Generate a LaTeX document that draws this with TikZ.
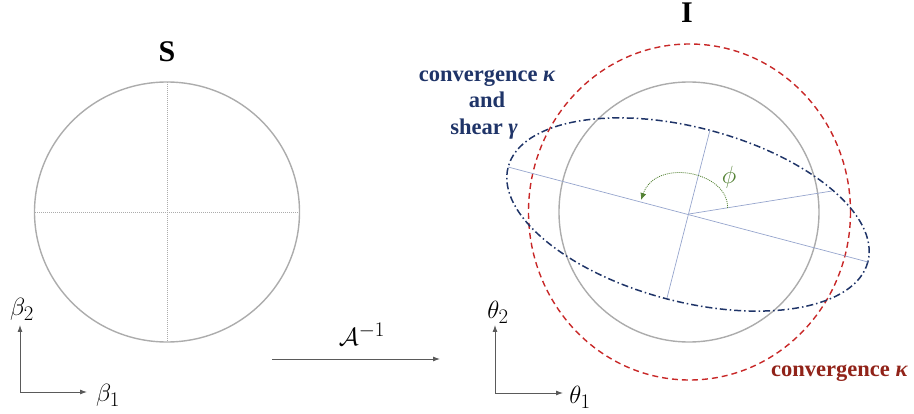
\documentclass[tikz,border=0pt]{standalone}
\usepackage[no-math]{fontspec}
\setmainfont{Liberation Serif}
\usetikzlibrary{arrows.meta}
\definecolor{circgray}{RGB}{172,172,172}
\definecolor{navy}{RGB}{31,52,104}
\definecolor{axisblue}{RGB}{150,165,205}
\definecolor{dashred}{RGB}{200,40,40}
\definecolor{textred}{RGB}{145,35,25}
\definecolor{phigreen}{RGB}{84,130,53}
\definecolor{axgray}{RGB}{90,90,90}
\tikzset{
  bigtitle/.style={font=\fontsize{30}{34}\selectfont\bfseries, inner sep=0pt, anchor=base},
  bluetxt/.style={font=\fontsize{22.5}{27}\selectfont\bfseries, text=navy, inner sep=0pt, anchor=base},
  redtxt/.style={font=\fontsize{22.5}{27}\selectfont\bfseries, text=textred, inner sep=0pt, anchor=base west},
  mathlbl/.style={font=\fontsize{24.88}{28}\selectfont, inner sep=0pt},
  grid line/.style={circgray, line width=0.5pt, dash pattern=on 1pt off 1pt},
  axisline/.style={axgray, line width=0.9pt, -{Latex[length=7pt,width=5pt]}},
  ellaxis/.style={axisblue, line width=0.7pt},
}
\begin{document}
\begin{tikzpicture}[x=1pt,y=-1pt]
\useasboundingbox (0,0) rectangle (914,414);

% ---------- left: source plane ----------
\draw[circgray, line width=1.4pt] (167,212) ellipse [x radius=132.5, y radius=130];
\draw[grid line] (35,212) -- (300,212);
\draw[grid line] (167,82) -- (167,342);
\node[bigtitle] (S) at (167,62) {S};

\coordinate (lo) at (20,392);
\coordinate (ly) at (20,325);
\coordinate (lx) at (87,392);
\draw[axisline] (lo) -- (ly);
\draw[axisline] (lo) -- (lx);
\node[mathlbl] (b2) at (22,309) {$\beta_2$};
\node[mathlbl] (b1) at (108,395) {$\beta_1$};

% ---------- mapping arrow ----------
\coordinate (ma) at (272,359);
\coordinate (mb) at (440,359);
\draw[axisline] (ma) -- (mb);
\node[mathlbl] (A) at (362,334) {$\mathcal{A}^{-1}$};

% ---------- right: image plane ----------
\node[bigtitle] (I) at (687,23) {I};
\draw[circgray, line width=1.4pt] (689,212) circle [radius=130];
\draw[dashred, line width=1.4pt, dash pattern=on 6pt off 4pt] (689.5,212) ellipse [x radius=161, y radius=168];
\draw[navy, line width=1.5pt, dash pattern=on 7pt off 3pt on 1.5pt off 3pt, rotate around={-14.8:(688,214.5)}] (688,214.5) ellipse [x radius=186, y radius=87];

\coordinate (c) at (689,214);
\coordinate (maj1) at (508,167);
\coordinate (maj2) at (868,262);
\coordinate (min1) at (710,130);
\coordinate (min2) at (667,298);
\coordinate (ref) at (832,191);
\draw[ellaxis] (maj1) -- (maj2);
\draw[ellaxis] (min1) -- (min2);
\draw[ellaxis] (c) -- (ref);

\coordinate (arcs) at (727.5,208);
\coordinate (arce) at (641,200);
\draw[phigreen, line width=0.8pt, dash pattern=on 1pt off 1pt, -{Latex[length=7pt,width=6pt]}]
  (arcs) .. controls (729,172) and (656,157) .. (arce);
\node[mathlbl, text=phigreen] (phi) at (729,177) {$\phi$};

\node[bluetxt] (bt1) at (487,82) {convergence {\itshape κ}};
\node[bluetxt] (bt2) at (487,108) {and};
\node[bluetxt] (bt3) at (484,135) {shear {\itshape γ}};
\node[redtxt] (rt) at (771,377) {convergence {\itshape κ}};

\coordinate (ro) at (495,393);
\coordinate (ry) at (495,325);
\coordinate (rx) at (563,393);
\draw[axisline] (ro) -- (ry);
\draw[axisline] (ro) -- (rx);
\node[mathlbl] (t2) at (498,312) {$\theta_2$};
\node[mathlbl] (t1) at (580,397) {$\theta_1$};
\end{tikzpicture}
\end{document}
